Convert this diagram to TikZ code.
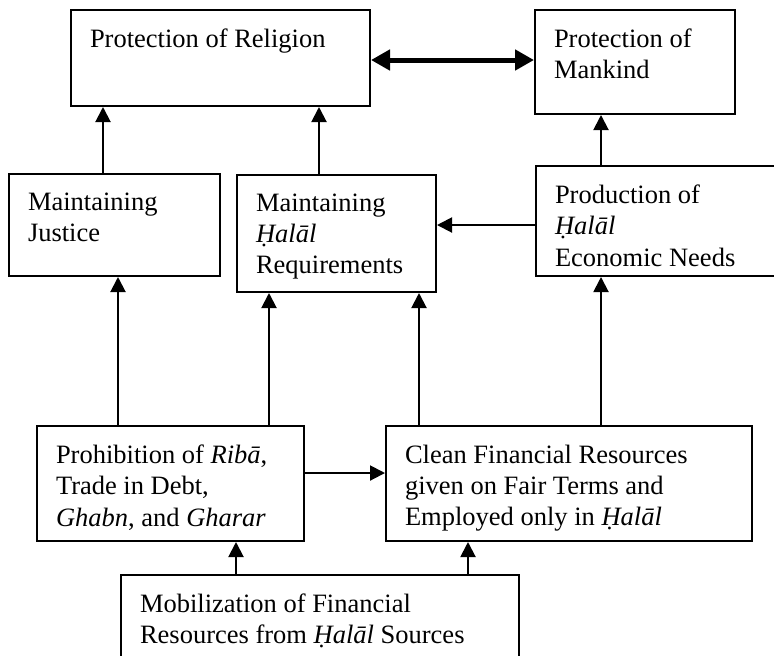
\documentclass[tikz,border=0pt]{standalone}
\usepackage{fontspec}
\setmainfont{Liberation Serif}
\usetikzlibrary{arrows.meta,positioning}
\newcommand{\blktext}[3]{\parbox[t][#2][t]{#1}{\raggedright #3}}
\tikzset{
  blk/.style={draw,line width=1pt,anchor=north west,inner sep=9.5pt,
              font=\fontsize{13.25}{15.6}\selectfont},
  arr/.style={-{Triangle[length=7.5pt,width=7.5pt]},line width=1pt},
  arrbig/.style={{Triangle[length=9.5pt,width=10pt]}-{Triangle[length=9.5pt,width=10pt]},
                 line width=2.5pt},
}
\begin{document}
\begin{tikzpicture}[x=0.5pt,y=-0.5pt]
  \useasboundingbox(0,0)rectangle(774,655);
  \clip(0,0)rectangle(774,655);
  % top row
  \node[blk](relig)at(70,9){\blktext{130.5pt}{29pt}{Protection of Religion}};
  \node[blk](mankind)at(534,9){\blktext{81pt}{33pt}{Protection of\\Mankind}};
  % middle row
  \node[blk](justice)at(8,173){\blktext{86.5pt}{32pt}{Maintaining\\Justice}};
  \node[blk](halreq)at(236,174)
    {\blktext{80.5pt}{39.5pt}{Maintaining\\\textit{Ḥalāl}\\Requirements}};
  \node[blk](produc)at(535,165)
    {\blktext{108.5pt}{36pt}{Production of\\\textit{Ḥalāl}\\Economic Needs}};
  % lower rows
  \node[blk](prohib)at(36,425)
    {\blktext{114.5pt}{38.5pt}{Prohibition of \textit{Ribā},\\Trade in Debt,\\
     \textit{Ghabn}, and \textit{Gharar}}};
  \node[blk](clean)at(385,425)
    {\blktext{164pt}{38.5pt}{Clean Financial Resources\\given on Fair Terms and\\
     Employed only in \textit{Ḥalāl}}};
  \node[blk](mobil)at(120,574)
    {\blktext{180pt}{39pt}{Mobilization of Financial\\Resources from \textit{Ḥalāl} Sources}};
  % connectors
  \draw[arrbig](relig.east|-0,60)--(mankind.west|-0,60);
  \draw[arr](produc.west|-0,225)--(halreq.east|-0,225);
  \draw[arr](prohib.east|-0,473)--(clean.west|-0,473);
  \foreach \from/\to/\x in {justice/relig/103,halreq/relig/319,produc/mankind/601,
                            prohib/justice/118,prohib/halreq/269,clean/halreq/419,
                            clean/produc/601,mobil/prohib/236,mobil/clean/468}{
    \draw[arr](\from.north-|\x,0)--(\to.south-|\x,0);
  }
\end{tikzpicture}
\end{document}
